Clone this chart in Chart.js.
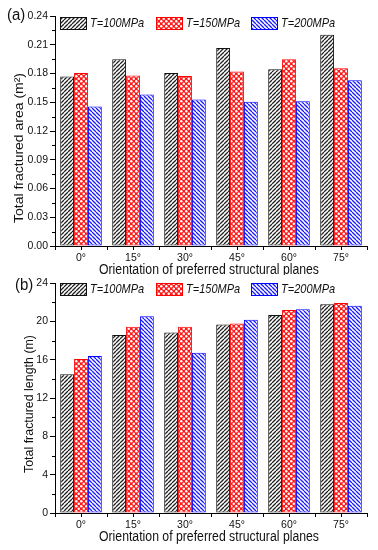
<!DOCTYPE html>
<html>
<head>
<meta charset="utf-8">
<script src="https://cdn.jsdelivr.net/npm/chart.js@4.4.0/dist/chart.umd.min.js"></script>
<style>
    html, body { margin: 0; padding: 0; background: #fff; }
    #wrap { position: relative; width: 378px; height: 550px; }
    canvas { position: absolute; left: 0; }
    #chartA { top: 0; }
    #chartB { top: 275px; }
</style>
</head>
<body>
<div id="wrap">
    <canvas id="chartA" width="378" height="275"></canvas>
    <canvas id="chartB" width="378" height="275"></canvas>
</div>
<script>
// Data
const categories = ['0°', '15°', '30°', '45°', '60°', '75°'];
const seriesLabels = ['T=100MPa', 'T=150MPa', 'T=200MPa'];

const area100 = [0.177, 0.195, 0.1805, 0.2065, 0.1845, 0.2205];
const area150 = [0.1805, 0.178, 0.1775, 0.182, 0.195, 0.1855];
const area200 = [0.1455, 0.158, 0.153, 0.1505, 0.151, 0.173];

const length100 = [14.5, 18.6, 18.85, 19.7, 20.7, 21.8];
const length150 = [16.1, 19.45, 19.45, 19.8, 21.2, 21.95];
const length200 = [16.4, 20.55, 16.75, 20.2, 21.3, 21.65];

const areaTicks = [0, 0.24, 0.03];   // min, max, step
const lengthTicks = [0, 24, 4];

const FONT = '"Liberation Sans", Arial, sans-serif';

// Fill patterns
function makeHatch(color, forward) {
    const s = 4;
    const c = document.createElement('canvas');
    c.width = s; c.height = s;
    const g = c.getContext('2d');
    g.fillStyle = '#fff';
    g.fillRect(0, 0, s, s);
    g.strokeStyle = color;
    g.lineWidth = 1.3;
    g.beginPath();
    for (let k = -s; k <= s; k += s) {
        if (forward) { g.moveTo(k, s); g.lineTo(k + s, 0); }
        else { g.moveTo(k, 0); g.lineTo(k + s, s); }
    }
    g.stroke();
    return g.createPattern(c, 'repeat');
}

function makeDots(color) {
    const s = 5;
    const c = document.createElement('canvas');
    c.width = s; c.height = s;
    const g = c.getContext('2d');
    g.fillStyle = color;
    g.fillRect(0, 0, s, s);
    g.fillStyle = '#fff';
    [[1.25, 1.25], [3.75, 3.75]].forEach(p => {
        g.beginPath(); g.arc(p[0], p[1], 1.25, 0, Math.PI * 2); g.fill();
    });
    return g.createPattern(c, 'repeat');
}

// Draws text, scaled so its width matches len (if given)
function drawText(ctx, text, x, y, size, opts) {
    opts = opts || {};
    ctx.save();
    ctx.font = (opts.italic ? 'italic ' : '') + size + 'px ' + FONT;
    ctx.fillStyle = '#111';
    ctx.textBaseline = 'middle';
    ctx.textAlign = opts.align || 'center';
    ctx.translate(x, y);
    if (opts.rotate) ctx.rotate(-Math.PI / 2);
    const sx = opts.len ? opts.len / ctx.measureText(text).width : 1;
    ctx.scale(sx, opts.sy || 1);
    ctx.fillText(text, 0, 0);
    ctx.restore();
}

const decorPlugin = {
    id: 'decor',
    afterDraw(chart) {
        const o = chart.options.plugins.decor;
        const ctx = chart.ctx;
        const area = chart.chartArea;
        const ys = chart.scales.y;
        const xs = chart.scales.x;
        ctx.save();
        ctx.strokeStyle = '#000';
        ctx.lineWidth = 1;

        // minor ticks on y
        const n = Math.round((o.ticks[1] - o.ticks[0]) / o.ticks[2]);
        for (let i = 0; i < n; i++) {
            const v = o.ticks[0] + (i + 0.5) * o.ticks[2];
            const py = Math.round(ys.getPixelForValue(v)) + 0.5;
            ctx.beginPath(); ctx.moveTo(area.left - 3, py); ctx.lineTo(area.left, py); ctx.stroke();
        }
        // ticks under category centres
        categories.forEach((c, i) => {
            const px = Math.round(xs.getPixelForValue(i)) + 0.5;
            ctx.beginPath(); ctx.moveTo(px, area.bottom); ctx.lineTo(px, area.bottom + 4); ctx.stroke();
        });

        // legend inside the plot
        chart.data.datasets.forEach((ds, i) => {
            const bx = o.legendX[i], by = o.legendY;
            ctx.fillStyle = ds.backgroundColor;
            ctx.fillRect(bx, by, 27, 13);
            ctx.strokeStyle = ds.borderColor;
            ctx.strokeRect(bx + 0.5, by + 0.5, 26, 12);
            drawText(ctx, ds.label, bx + 30, by + 7, 11, { italic: true, align: 'left', sy: 1.12 });
        });
        ctx.restore();

        drawText(ctx, o.panel, o.panelX, o.panelY, 15, { align: 'left', sy: 1.15 });
        drawText(ctx, o.yTitle, o.yTitleX, o.yTitleY, 12.5, { rotate: true, len: o.yTitleLen });
        drawText(ctx, 'Orientation of preferred structural planes', 209, area.bottom + 24, 12.5, { len: 220, sy: 1.12 });
    }
};

function makeChart(id, values, tickSet, decor, pad, xHeight) {
    const fills = [makeHatch('#222', true), makeDots('#ff1a1a'), makeHatch('#1a1aff', false)];
    const borders = ['#111', '#ff0000', '#0000ff'];
    const datasets = values.map((vals, i) => ({
        label: seriesLabels[i],
        data: vals,
        backgroundColor: fills[i],
        borderColor: borders[i],
        borderWidth: 1,
        borderSkipped: false,
        barPercentage: 1,
        categoryPercentage: 0.8
    }));
    decor.ticks = tickSet;

    return new Chart(document.getElementById(id), {
        type: 'bar',
        data: { labels: categories, datasets: datasets },
        plugins: [decorPlugin],
        options: {
            responsive: false,
            animation: false,
            devicePixelRatio: 1,
            layout: { padding: pad },
            plugins: {
                legend: { display: false },
                tooltip: { enabled: false },
                decor: decor
            },
            scales: {
                x: {
                    afterFit: s => { s.height = xHeight; },
                    grid: { offset: true, drawOnChartArea: false, drawTicks: true, tickLength: 4, color: '#000' },
                    border: { display: true, color: '#000', width: 1 },
                    ticks: { color: '#111', padding: 2, font: { family: FONT, size: 10.5 } }
                },
                y: {
                    min: tickSet[0],
                    max: tickSet[1],
                    afterFit: s => { s.width = 55; },
                    grid: { drawOnChartArea: false, drawTicks: true, tickLength: 5, color: '#000' },
                    border: { display: true, color: '#000', width: 1 },
                    ticks: {
                        stepSize: tickSet[2],
                        padding: 2,
                        color: '#111',
                        font: { family: FONT, size: 10.5 },
                        callback: v => tickSet[2] < 1 ? v.toFixed(2) : String(v)
                    }
                }
            }
        }
    });
}

makeChart('chartA', [area100, area150, area200], areaTicks, {
    panel: '(a)', panelX: 7, panelY: 15,
    yTitle: 'Total fractured area (m²)', yTitleX: 20, yTitleY: 148, yTitleLen: 150,
    legendX: [60, 156, 251], legendY: 17
}, { top: 16, left: 0, right: 11, bottom: 0 }, 29);

makeChart('chartB', [length100, length150, length200], lengthTicks, {
    panel: '(b)', panelX: 15, panelY: 10,
    yTitle: 'Total fractured length (m)', yTitleX: 30, yTitleY: 129, yTitleLen: 138,
    legendX: [60, 156, 251], legendY: 8
}, { top: 7, left: 0, right: 11, bottom: 0 }, 37);
</script>
</body>
</html>
